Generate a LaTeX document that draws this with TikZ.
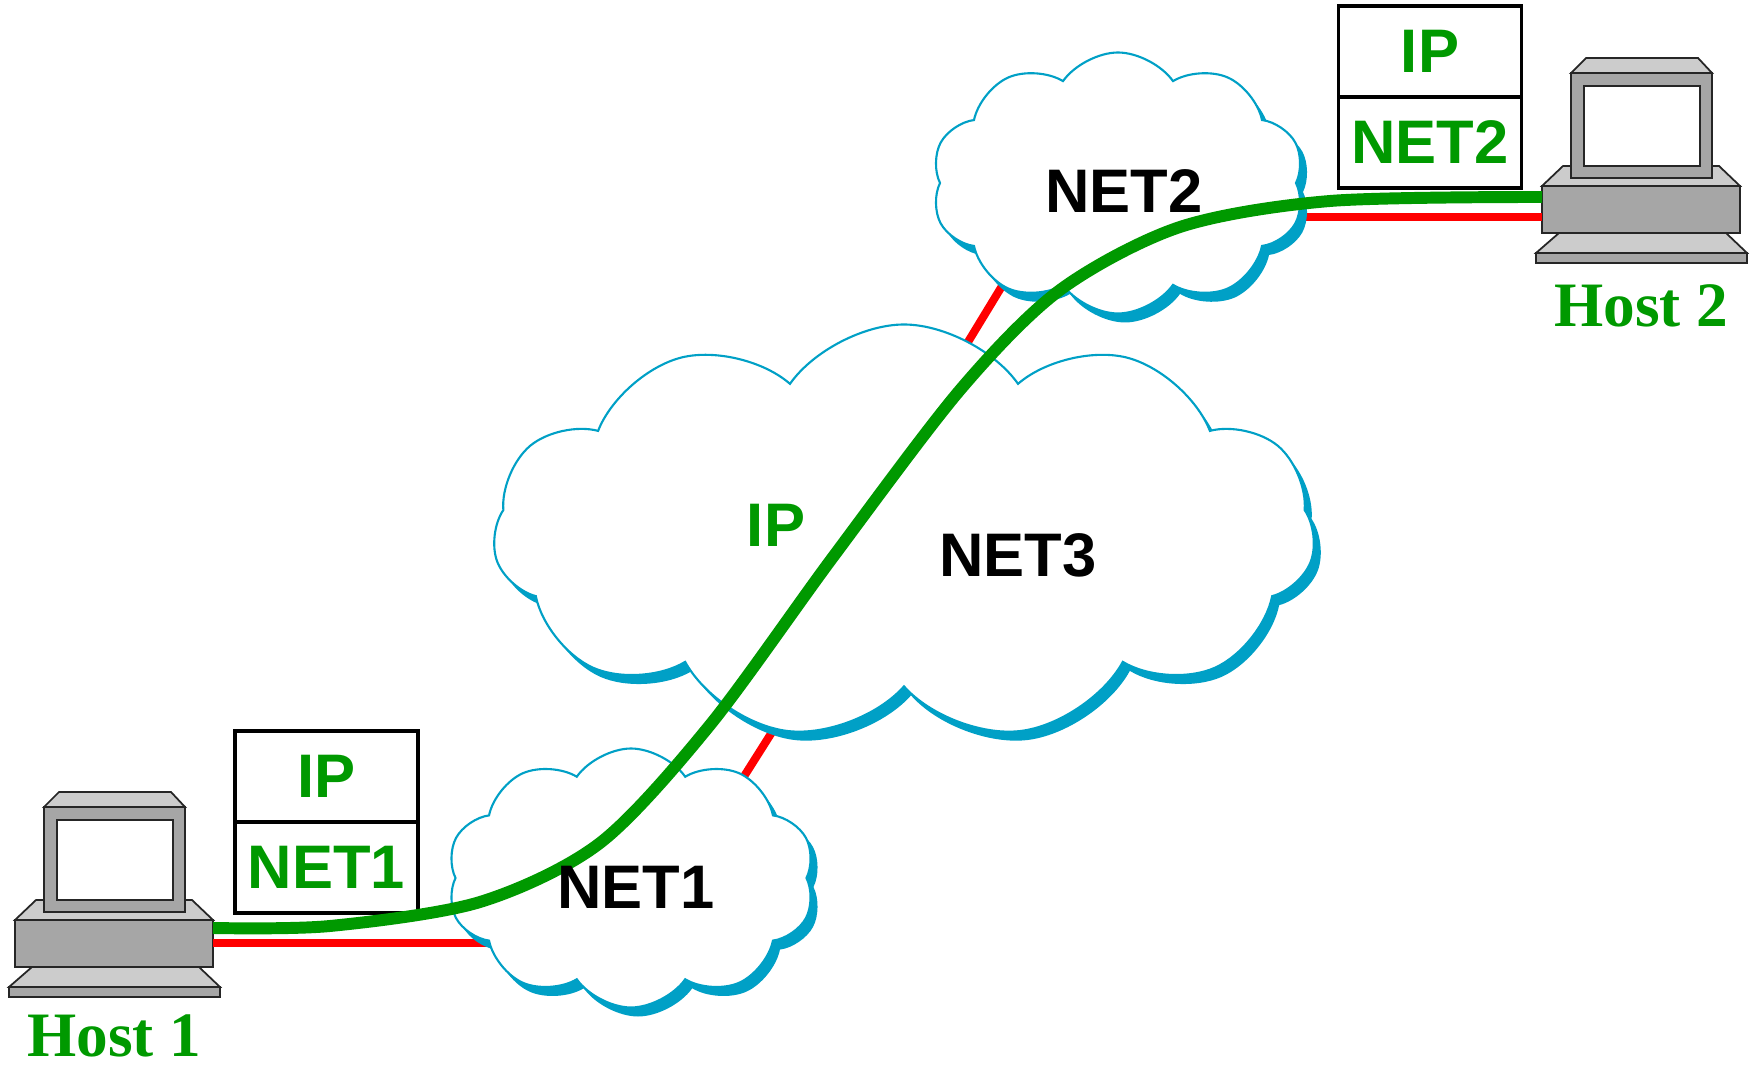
\documentclass[tikz,border=0pt]{standalone}
\usepackage{fontspec}
\setmainfont{Liberation Sans}
\newfontfamily\hostfont{Liberation Serif}
\usetikzlibrary{positioning,shapes.symbols,shadows}

\definecolor{ipgreen}{RGB}{0,153,0}
\definecolor{linkred}{RGB}{255,0,0}
\definecolor{cloudblue}{RGB}{0,160,198}
\definecolor{pcdark}{RGB}{166,166,166}
\definecolor{pclight}{RGB}{204,204,204}

\tikzset{
  pcline/.style={draw=black!85, line width=0.5pt},
  % desktop computer, origin at the top left corner of the case
  computer/.pic={
    \draw[pcline, fill=pcdark] (-0.06,-0.67) rectangle (2.05,-0.77);
    \draw[pcline, fill=pclight] (0.17,-0.47) -- (1.84,-0.47) -- (2.05,-0.67) -- (-0.06,-0.67) -- cycle;
    \draw[pcline, fill=pcdark] (0,0) rectangle (1.98,-0.47);
    \draw[pcline, fill=pclight] (0.21,0.20) -- (1.77,0.20) -- (1.98,0) -- (0,0) -- cycle;
    \draw[pcline, fill=pcdark] (0.29,0.08) rectangle (1.70,1.13);
    \draw[pcline, fill=pclight] (0.44,1.28) -- (1.56,1.28) -- (1.70,1.13) -- (0.29,1.13) -- cycle;
    \draw[pcline, fill=white] (0.42,0.20) rectangle (1.58,1.00);
    \coordinate (-ipR) at (1.98,-0.08);
    \coordinate (-netR) at (1.98,-0.23);
    \coordinate (-ipL) at (0,-0.11);
    \coordinate (-netL) at (0,-0.31);
    \coordinate (-bot) at (0.995,-0.77);
  },
}

\begin{document}
\begin{tikzpicture}[
    layer/.style={draw, line width=0.9pt, outer sep=0pt, inner sep=0pt,
      minimum width=1.83cm, minimum height=0.91cm, text=ipgreen,
      font=\fontsize{17.5}{18}\selectfont\bfseries},
    net/.style={cloud, cloud puffs=11, cloud puff arc=110, cloud ignores aspect,
      inner sep=0pt, draw=cloudblue, line width=0.6pt, fill=white,
      drop shadow={shadow xshift=0.07cm, shadow yshift=-0.09cm, fill=cloudblue, opacity=1}},
    netname/.style={font=\fontsize{17.5}{18}\selectfont\bfseries},
    hostname/.style={text=ipgreen, inner sep=0pt, font=\hostfont\fontsize{18}{20}\selectfont\bfseries},
    netlink/.style={draw=linkred, line width=2.3pt},
    ipline/.style={draw=ipgreen, line width=3.4pt},
  ]
  \useasboundingbox (0,0) rectangle (17.58,10.65);

  % the two hosts
  \pic (h1) at (0.15,1.45) {computer};
  \pic (h2) at (15.42,8.79) {computer};
  \node[hostname, below=0.17cm of h1-bot] (h1name) {Host 1};
  \node[hostname, below=0.21cm of h2-bot] (h2name) {Host 2};

  % protocol stacks
  \node[layer] (s1ip) at (3.265,2.885) {IP};
  \node[layer, below=0pt of s1ip] (s1net) {NET1};
  \node[layer] (s2ip) at (14.30,10.135) {IP};
  \node[layer, below=0pt of s2ip] (s2net) {NET2};

  % cloud centres
  \coordinate (c1) at (6.31,1.87);
  \coordinate (c2) at (11.18,8.82);
  \coordinate (c3) at (9.04,5.33);

  % physical links, drawn first so the clouds hide their ends
  \coordinate (j31) at (7.98,3.74);
  \coordinate (j13) at (7.00,2.19);
  \coordinate (j23) at (10.30,8.25);
  \coordinate (j32) at (9.40,6.77);
  \draw[netlink] (h1-netR) -- (h1-netR -| c1);
  \draw[netlink] (h2-netL) -- (h2-netL -| c2);
  \draw[netlink] (j31) -- (j13);
  \draw[netlink] (j23) -- (j32);

  \node[net, minimum width=8.22cm, minimum height=4.15cm] (n3) at (c3) {};
  \node[net, cloud puffs=10, minimum width=3.68cm, minimum height=2.59cm] (n1) at (c1) {};
  \node[net, cloud puffs=10, minimum width=3.73cm, minimum height=2.61cm] (n2) at (c2) {};

  % end to end IP path
  \coordinate (g1) at (3.30,1.39);
  \coordinate (g2) at (4.80,1.63);
  \coordinate (g3) at (6.00,2.22);
  \coordinate (g4) at (7.10,3.40);
  \coordinate (g5) at (8.33,5.08);
  \coordinate (g6) at (9.60,6.75);
  \coordinate (g7) at (10.60,7.75);
  \coordinate (g8) at (11.80,8.38);
  \coordinate (g9) at (13.30,8.64);
  \draw[ipline] plot[smooth] coordinates {(h1-ipR) (g1) (g2) (g3) (g4) (g5) (g6) (g7) (g8) (g9) (h2-ipL)};

  \node[netname] (l1) at (6.36,1.78) {NET1};
  \node[netname] (l2) at (11.24,8.74) {NET2};
  \node[netname] (l3) at (10.18,5.10) {NET3};
  \node[netname, text=ipgreen] (lip) at (7.76,5.40) {IP};
\end{tikzpicture}
\end{document}
